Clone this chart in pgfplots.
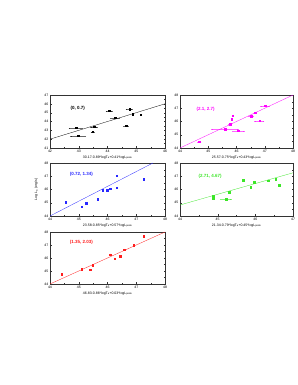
\documentclass[border=0pt]{standalone}
\usepackage{pgfplots}
\pgfplotsset{compat=1.18}
\usepackage{fontspec}
\setmainfont{Liberation Sans}
\definecolor{cmag}{RGB}{255,0,255}
\definecolor{cblue}{RGB}{40,40,255}
\definecolor{cgreen}{RGB}{60,230,40}
\definecolor{cred}{RGB}{255,30,30}
\pgfplotsset{
  panel/.style={
    scale only axis, anchor=south west,
    tick align=inside, minor tick num=1,
    xtick distance=1, ytick distance=1,
    tick label style={font=\scriptsize},
    label style={font=\scriptsize},
    ylabel style={yshift=6pt},
    /pgf/number format/assume math mode=true,
    /pgf/number format/1000 sep={},
    axis line style={line width=0.6pt, black!80},
    every tick/.style={black!80, line width=0.4pt},
    major tick length=3pt, minor tick length=1.5pt,
    scaled ticks=false,
    clip=true,
  },
  pts/.style={only marks, mark=square*, mark size=1.5pt,
    error bars/x dir=both, error bars/x explicit,
    error bars/error bar style={line width=0.3pt, solid, opacity=0.6},
    error bars/error mark options={draw=none, fill=none}},
  fit/.style={no marks, line width=0.6pt},
}
\begin{document}
\begin{tikzpicture}
\useasboundingbox (0,0) rectangle (596pt,770pt);
% Panel 1
\begin{axis}[panel, at={(100pt,474pt)}, width=230pt, height=106pt,
  xmin=42, xmax=46, ymin=41, ymax=47,
  xlabel={30.17-0.89*logT\textsubscript{a}+0.41*logL\textsubscript{peak}}]
\addplot[fit, black] coordinates {(42,42) (46,46)};
\addplot[pts, black, mark options={fill=black}] coordinates {
(42.90,43.30) +- (0.23,0)
(42.98,42.39) +- (0.25,0)
(43.49,42.85) +- (0.05,0)
(43.53,43.41) +- (0.10,0)
(44.06,45.22) +- (0.10,0)
(44.26,44.43) +- (0.15,0)
(44.64,43.53) +- (0.08,0)
(44.76,45.42) +- (0.10,0)
(44.88,44.85) +- (0,0)
(45.15,44.77) +- (0,0)
};
\node[anchor=west, font=\small\bfseries, black] at (axis cs:42.66,45.53) {(0, 0.7)};
\end{axis}
% Panel 2
\begin{axis}[panel, at={(360pt,474pt)}, width=226pt, height=106pt,
  xmin=44, xmax=48, ymin=44, ymax=48,
  xlabel={25.57-0.75*logT\textsubscript{a}+0.43*logL\textsubscript{peak}}]
\addplot[fit, cmag] coordinates {(44,44) (48,48)};
\addplot[pts, cmag, mark options={fill=cmag}] coordinates {
(44.68,44.48) +- (0.05,0)
(45.59,45.41) +- (0.46,0)
(45.77,45.79) +- (0.05,0)
(45.83,46.17) +- (0,0)
(45.87,46.44) +- (0,0)
(46.06,45.31) +- (0.20,0)
(46.51,46.42) +- (0.08,0)
(46.65,46.69) +- (0,0)
(46.81,46.06) +- (0.15,0)
(47.01,47.19) +- (0.15,0)
};
\node[anchor=west, font=\small\bfseries, cmag] at (axis cs:44.53,46.94) {(2.1, 2.7)};
\end{axis}
% Panel 3
\begin{axis}[panel, at={(100pt,338pt)}, width=230pt, height=106pt,
  xmin=44, xmax=48, ymin=44, ymax=48,
  xlabel={23.58-0.85*logT\textsubscript{a}+0.57*logL\textsubscript{peak}},
  ylabel={Log L\textsubscript{a} (erg/s)}]
\addplot[fit, cblue] coordinates {(44,44) (47.58,48)};
\addplot[pts, cblue, mark options={fill=cblue}] coordinates {
(44.55,45.03) +- (0,0)
(45.10,44.70) +- (0,0)
(45.25,44.98) +- (0,0)
(45.65,45.26) +- (0,0)
(45.83,45.96) +- (0,0)
(45.99,45.96) +- (0,0)
(46.09,46.06) +- (0,0)
(46.32,47.04) +- (0,0)
(46.32,46.14) +- (0,0)
(47.25,46.79) +- (0,0)
};
\node[anchor=west, font=\small\bfseries, cblue] at (axis cs:44.63,47.17) {(0.72, 1.34)};
\end{axis}
% Panel 4
\begin{axis}[panel, at={(360pt,338pt)}, width=226pt, height=106pt,
  xmin=44, xmax=47, ymin=44, ymax=48,
  xlabel={21.34-0.79*logT\textsubscript{a}+0.45*logL\textsubscript{peak}}]
\addplot[fit, cgreen] coordinates {(44,44.83) (47,47.26)};
\addplot[pts, cgreen, mark options={fill=cgreen}] coordinates {
(44.88,45.51) +- (0,0)
(44.88,45.31) +- (0,0)
(45.22,45.26) +- (0.14,0)
(45.30,45.79) +- (0,0)
(45.68,46.72) +- (0,0)
(45.88,46.17) +- (0,0)
(45.97,46.57) +- (0,0)
(46.34,46.69) +- (0,0)
(46.54,46.79) +- (0,0)
(46.63,46.32) +- (0,0)
};
\node[anchor=west, font=\small\bfseries, cgreen] at (axis cs:44.45,47.02) {(2.71, 4.67)};
\end{axis}
% Panel 5
\begin{axis}[panel, at={(100pt,202pt)}, width=230pt, height=104pt,
  xmin=44, xmax=48, ymin=44, ymax=48,
  xlabel={46.83-0.86*logT\textsubscript{a}+0.03*logL\textsubscript{peak}}]
\addplot[fit, cred] coordinates {(44,44) (48,48)};
\addplot[pts, cred, mark options={fill=cred}] coordinates {
(44.41,44.77) +- (0,0)
(45.10,45.15) +- (0,0)
(45.39,45.10) +- (0,0)
(45.49,45.46) +- (0,0)
(46.09,46.28) +- (0,0)
(46.24,45.95) +- (0,0)
(46.43,46.15) +- (0,0)
(46.57,46.64) +- (0,0)
(46.90,47.00) +- (0,0)
(47.25,47.67) +- (0,0)
};
\node[anchor=west, font=\small\bfseries, cred] at (axis cs:44.63,47.23) {(1.35, 2.03)};
\end{axis}
\end{tikzpicture}
\end{document}
